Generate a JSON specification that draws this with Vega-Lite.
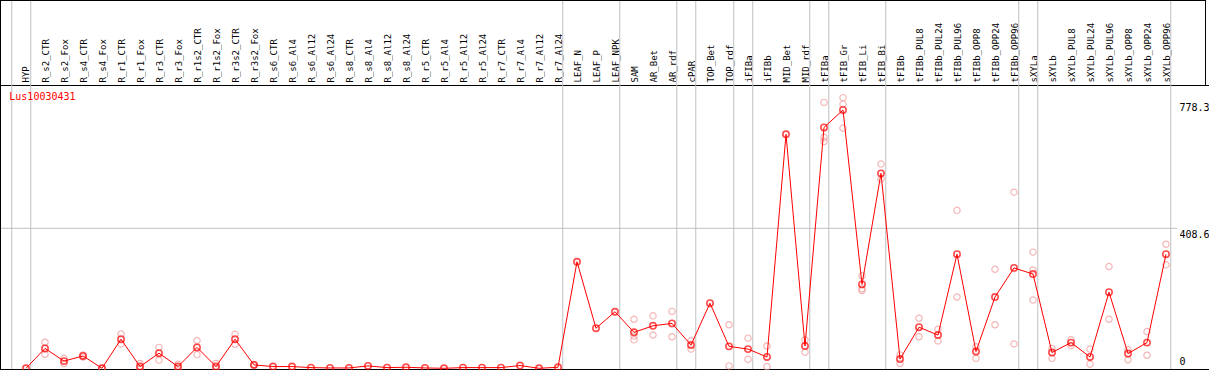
{
  "$schema": "https://vega.github.io/schema/vega-lite/v6.json",
  "width": 1209,
  "height": 370,
  "padding": 0,
  "autosize": {"type": "none"},
  "background": "white",
  "config": {"view": {"stroke": null}, "axis": {"labelOverlap": false}},
  "datasets": {
    "means": [
      {"i":0,"name":"HYP","v":0},{"i":1,"name":"R_s2_CTR","v":58},{"i":2,"name":"R_s2_Fox","v":21},{"i":3,"name":"R_s4_CTR","v":36},{"i":4,"name":"R_s4_Fox","v":0},
      {"i":5,"name":"R_r1_CTR","v":85},{"i":6,"name":"R_r1_Fox","v":5},{"i":7,"name":"R_r3_CTR","v":44},{"i":8,"name":"R_r3_Fox","v":5},{"i":9,"name":"R_r1s2_CTR","v":61},
      {"i":10,"name":"R_r1s2_Fox","v":5},{"i":11,"name":"R_r3s2_CTR","v":85},{"i":12,"name":"R_r3s2_Fox","v":10},{"i":13,"name":"R_s6_CTR","v":5},{"i":14,"name":"R_s6_Al4","v":5},
      {"i":15,"name":"R_s6_Al12","v":2},{"i":16,"name":"R_s6_Al24","v":1},{"i":17,"name":"R_s8_CTR","v":1},{"i":18,"name":"R_s8_Al4","v":7},{"i":19,"name":"R_s8_Al12","v":2},
      {"i":20,"name":"R_s8_Al24","v":3},{"i":21,"name":"R_r5_CTR","v":1},{"i":22,"name":"R_r5_Al4","v":0},{"i":23,"name":"R_r5_Al12","v":2},{"i":24,"name":"R_r5_Al24","v":2},
      {"i":25,"name":"R_r7_CTR","v":2},{"i":26,"name":"R_r7_Al4","v":8},{"i":27,"name":"R_r7_Al12","v":0},{"i":28,"name":"R_r7_Al24","v":3},{"i":29,"name":"LEAF_N","v":311},
      {"i":30,"name":"LEAF_P","v":117},{"i":31,"name":"LEAF_NPK","v":165},{"i":32,"name":"SAM","v":105},{"i":33,"name":"AR_Bet","v":124},{"i":34,"name":"AR_rdf","v":131},
      {"i":35,"name":"cPAR","v":68},{"i":36,"name":"TOP_Bet","v":190},{"i":37,"name":"TOP_rdf","v":64},{"i":38,"name":"iFIBa","v":56},{"i":39,"name":"iFIBb","v":33},
      {"i":40,"name":"MID_Bet","v":683},{"i":41,"name":"MID_rdf","v":65},{"i":42,"name":"tFIBa","v":703},{"i":43,"name":"tFIB_Gr","v":754},{"i":44,"name":"tFIB_Li","v":245},
      {"i":45,"name":"tFIB_Bi","v":569},{"i":46,"name":"tFIBb","v":27},{"i":47,"name":"tFIBb_PUL8","v":120},{"i":48,"name":"tFIBb_PUL24","v":97},{"i":49,"name":"tFIBb_PUL96","v":333},
      {"i":50,"name":"tFIBb_OPP8","v":49},{"i":51,"name":"tFIBb_OPP24","v":208},{"i":52,"name":"tFIBb_OPP96","v":293},{"i":53,"name":"sXYLa","v":275},{"i":54,"name":"sXYLb","v":46},
      {"i":55,"name":"sXYLb_PUL8","v":75},{"i":56,"name":"sXYLb_PUL24","v":33},{"i":57,"name":"sXYLb_PUL96","v":222},{"i":58,"name":"sXYLb_OPP8","v":43},{"i":59,"name":"sXYLb_OPP24","v":75},
      {"i":60,"name":"sXYLb_OPP96","v":333}
    ],
    "reps": [
      {"i":1,"v":76},{"i":1,"v":41},{"i":2,"v":29},{"i":2,"v":14},{"i":3,"v":39},{"i":3,"v":33},{"i":4,"v":0},
      {"i":5,"v":100},{"i":5,"v":71},{"i":6,"v":14},{"i":6,"v":0},{"i":7,"v":61},{"i":7,"v":24},{"i":8,"v":12},{"i":8,"v":0},
      {"i":9,"v":81},{"i":9,"v":40},{"i":10,"v":14},{"i":10,"v":1},{"i":11,"v":99},{"i":11,"v":70},{"i":12,"v":11},{"i":12,"v":8},
      {"i":32,"v":143},{"i":32,"v":94},{"i":32,"v":83},{"i":33,"v":153},{"i":33,"v":97},{"i":34,"v":166},{"i":34,"v":92},
      {"i":35,"v":80},{"i":35,"v":56},{"i":37,"v":127},{"i":37,"v":7},{"i":38,"v":88},{"i":38,"v":26},{"i":39,"v":65},{"i":39,"v":5},
      {"i":41,"v":83},{"i":41,"v":47},{"i":42,"v":776},{"i":42,"v":674},{"i":42,"v":662},{"i":43,"v":790},{"i":43,"v":771},{"i":43,"v":701},
      {"i":44,"v":270},{"i":44,"v":232},{"i":44,"v":227},{"i":45,"v":596},{"i":45,"v":552},{"i":46,"v":39},{"i":46,"v":14},
      {"i":47,"v":146},{"i":47,"v":92},{"i":48,"v":114},{"i":48,"v":80},{"i":49,"v":461},{"i":49,"v":208},{"i":50,"v":63},{"i":50,"v":29},
      {"i":51,"v":289},{"i":51,"v":127},{"i":52,"v":514},{"i":52,"v":71},{"i":53,"v":339},{"i":53,"v":287},{"i":53,"v":199},
      {"i":54,"v":58},{"i":54,"v":29},{"i":55,"v":83},{"i":55,"v":66},{"i":56,"v":56},{"i":56,"v":12},{"i":57,"v":297},{"i":57,"v":143},
      {"i":58,"v":54},{"i":58,"v":25},{"i":59,"v":107},{"i":59,"v":38},{"i":60,"v":362},{"i":60,"v":302}
    ],
    "seps": [
      {"p":-0.75},{"p":0.25},{"p":28.25},{"p":31.25},{"p":34.25},{"p":35.25},{"p":37.25},{"p":38.25},
      {"p":41.25},{"p":42.25},{"p":45.25},{"p":52.25},{"p":53.25},{"p":60.25}
    ]
  },
  "layer": [
    {
      "data": {"name": "seps"},
      "mark": {"type": "rule", "color": "#c0c0c0", "strokeWidth": 1},
      "encoding": {
        "x": {
          "field": "p", "type": "quantitative", "title": null,
          "scale": {"domain": [-1.368421, 62.263158], "nice": false, "zero": false},
          "axis": {
            "orient": "top", "offset": -85, "title": null, "tickCount": 200,
            "values": [0,1,2,3,4,5,6,7,8,9,10,11,12,13,14,15,16,17,18,19,20,21,22,23,24,25,26,27,28,29,30,31,32,33,34,35,36,37,38,39,40,41,42,43,44,45,46,47,48,49,50,51,52,53,54,55,56,57,58,59,60],
            "labelExpr": "['HYP','R_s2_CTR','R_s2_Fox','R_s4_CTR','R_s4_Fox','R_r1_CTR','R_r1_Fox','R_r3_CTR','R_r3_Fox','R_r1s2_CTR','R_r1s2_Fox','R_r3s2_CTR','R_r3s2_Fox','R_s6_CTR','R_s6_Al4','R_s6_Al12','R_s6_Al24','R_s8_CTR','R_s8_Al4','R_s8_Al12','R_s8_Al24','R_r5_CTR','R_r5_Al4','R_r5_Al12','R_r5_Al24','R_r7_CTR','R_r7_Al4','R_r7_Al12','R_r7_Al24','LEAF_N','LEAF_P','LEAF_NPK','SAM','AR_Bet','AR_rdf','cPAR','TOP_Bet','TOP_rdf','iFIBa','iFIBb','MID_Bet','MID_rdf','tFIBa','tFIB_Gr','tFIB_Li','tFIB_Bi','tFIBb','tFIBb_PUL8','tFIBb_PUL24','tFIBb_PUL96','tFIBb_OPP8','tFIBb_OPP24','tFIBb_OPP96','sXYLa','sXYLb','sXYLb_PUL8','sXYLb_PUL24','sXYLb_PUL96','sXYLb_OPP8','sXYLb_OPP24','sXYLb_OPP96'][datum.value]",
            "labelAngle": -90, "labelAlign": "left", "labelBaseline": "middle",
            "labelFont": "DejaVu Sans Mono", "labelFontSize": 9, "labelColor": "black",
            "labelPadding": 3, "labelOverlap": false, "labelBound": false, "labelFlush": false,
            "ticks": false, "tickSize": 0, "grid": false,
            "domain": true, "domainColor": "black", "domainWidth": 1
          }
        }
      }
    },
    {
      "data": {"values": [{}]},
      "mark": {"type": "rule", "color": "#c0c0c0", "strokeWidth": 1},
      "encoding": {
        "y": {
          "datum": 408.6, "type": "quantitative",
          "scale": {"domain": [-5, 1075], "nice": false, "zero": false},
          "axis": {
            "orient": "right", "offset": -32, "title": null,
            "values": [0, 408.6, 778.3],
            "labelExpr": "datum.value === 0 ? '0' : format(datum.value, '.1f')",
            "labelFont": "DejaVu Sans Mono", "labelFontSize": 10, "labelColor": "black",
            "labelAlign": "left",
            "labelBaseline": {"condition": {"test": "datum.value === 0", "value": "bottom"}, "value": "top"},
            "labelOffset": {"condition": {"test": "datum.value === 0", "value": -2}, "value": 1},
            "labelPadding": 2, "labelFlush": false, "labelOverlap": false,
            "ticks": false, "tickSize": 0, "grid": false, "domain": false
          }
        },
        "x": {"datum": -1.368421, "type": "quantitative"},
        "x2": {"datum": 60.58}
      }
    },
    {
      "data": {"values": [{}]},
      "mark": {"type": "rule", "color": "black", "strokeWidth": 1},
      "encoding": {
        "y": {"datum": -3.5, "type": "quantitative"},
        "x": {"datum": -1.368421, "type": "quantitative"},
        "x2": {"datum": 62.263158}
      }
    },
    {
      "data": {"values": [{}]},
      "mark": {"type": "rule", "color": "black", "strokeWidth": 1},
      "encoding": {
        "y": {"datum": 1073.5, "type": "quantitative"},
        "x": {"datum": -1.368421, "type": "quantitative"},
        "x2": {"datum": 62.08}
      }
    },
    {
      "data": {"values": [{}]},
      "mark": {"type": "rule", "color": "black", "strokeWidth": 1},
      "encoding": {
        "x": {"datum": -1.342, "type": "quantitative"},
        "y": {"datum": -5, "type": "quantitative"},
        "y2": {"datum": 1075}
      }
    },
    {
      "data": {"values": [{}]},
      "mark": {"type": "rule", "color": "black", "strokeWidth": 1},
      "encoding": {
        "x": {"datum": 62.08, "type": "quantitative"},
        "y": {"datum": 826.8, "type": "quantitative"},
        "y2": {"datum": 1075}
      }
    },
    {
      "data": {"name": "reps"},
      "mark": {"type": "point", "shape": "circle", "filled": false, "color": "#f09a9a", "size": 40, "strokeWidth": 1.2},
      "encoding": {
        "x": {"field": "i", "type": "quantitative", "title": null},
        "y": {"field": "v", "type": "quantitative", "title": null}
      }
    },
    {
      "data": {"name": "means"},
      "mark": {"type": "line", "color": "#ff0000", "strokeWidth": 1},
      "encoding": {
        "x": {"field": "i", "type": "quantitative", "title": null},
        "y": {"field": "v", "type": "quantitative", "title": null}
      }
    },
    {
      "data": {"name": "means"},
      "mark": {"type": "point", "shape": "circle", "filled": false, "color": "#ff0000", "size": 40, "strokeWidth": 1.6},
      "encoding": {
        "x": {"field": "i", "type": "quantitative", "title": null},
        "y": {"field": "v", "type": "quantitative", "title": null}
      }
    },
    {
      "data": {"values": [{"t": "Lus10030431"}]},
      "mark": {"type": "text", "align": "left", "baseline": "middle", "font": "DejaVu Sans Mono", "fontSize": 10, "color": "#ff0000"},
      "encoding": {
        "x": {"datum": -0.879, "type": "quantitative"},
        "y": {"datum": 791.8, "type": "quantitative"},
        "text": {"field": "t"}
      }
    }
  ]
}
